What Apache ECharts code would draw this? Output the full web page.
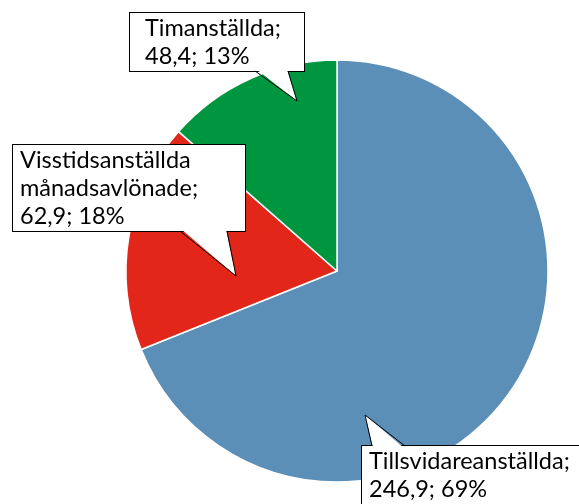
<!DOCTYPE html>
<html>
<head>
<meta charset="utf-8">
<script src="https://cdn.jsdelivr.net/npm/echarts@6/dist/echarts.min.js"></script>
<style>
  html, body { margin: 0; padding: 0; background: #fff; }
  #main { width: 579px; height: 504px; }
</style>
</head>
<body>
<div id="main"></div>
<script>
// data
const categories = ['Tillsvidareanställda', 'Visstidsanställda\nmånadsavlönade', 'Timanställda']
const values = [246.9, 62.9, 48.4]
const percents = [69, 18, 13]
const colors = ['#5b8fb8', '#e3261a', '#00963f']

// callout boxes (left, top, width, height, left padding) and their pointers
const boxes = [
    { x: 362, y: 446, w: 240, h: 80, pl: 7 },
    { x: 13, y: 145, w: 232, h: 86, pl: 7 },
    { x: 130, y: 13, w: 174, h: 58, pl: 15 },
]
const pointers = [
    [[372, 446], [365, 415], [405, 446]],
    [[180, 231], [236, 276], [227, 231]],
    [[255, 71], [297, 101], [288, 71]],
]

const fmt = v => String(v).replace('.', ',')

let data = categories.map((name, i) => ({
    name: name,
    value: values[i],
    itemStyle: { color: colors[i] },
    label: {
        width: boxes[i].w - boxes[i].pl - 4,
        height: boxes[i].h - 2,
        padding: [1, 4, 1, boxes[i].pl],
    },
}))

let graphics = []
for (let p of pointers) {
    let d = p[1][1] > p[0][1] ? -2 : 2
    graphics.push({
        type: 'polygon',
        z: 100,
        shape: { points: [[p[0][0] + 1, p[0][1] + d], p[1], [p[2][0] - 1, p[2][1] + d]] },
        style: { fill: '#fff', stroke: null },
    })
    graphics.push({
        type: 'polyline',
        z: 101,
        shape: { points: p },
        style: { stroke: '#000', lineWidth: 1, fill: null },
    })
}

let chart = echarts.init(document.getElementById('main'))
chart.setOption({
    animation: false,
    series: [{
        type: 'pie',
        center: [337, 271],
        radius: 211,
        startAngle: 90,
        clockwise: true,
        data: data,
        itemStyle: { borderColor: '#fff', borderWidth: 1.5 },
        label: {
            show: true,
            position: 'outside',
            formatter: p => p.name + ';\n' + fmt(p.value) + '; ' + percents[p.dataIndex] + '%',
            fontFamily: 'Lato',
            fontSize: 23.5,
            lineHeight: 28,
            color: '#000',
            backgroundColor: '#fff',
            borderColor: '#000',
            borderWidth: 1,
            align: 'left',
            verticalAlign: 'top',
            overflow: 'none',
        },
        labelLine: { show: false },
        labelLayout: params => ({
            x: boxes[params.dataIndex].x,
            y: boxes[params.dataIndex].y,
            align: 'left',
            verticalAlign: 'top',
        }),
        emphasis: { disabled: true },
    }],
    graphic: graphics,
})
</script>
</body>
</html>
